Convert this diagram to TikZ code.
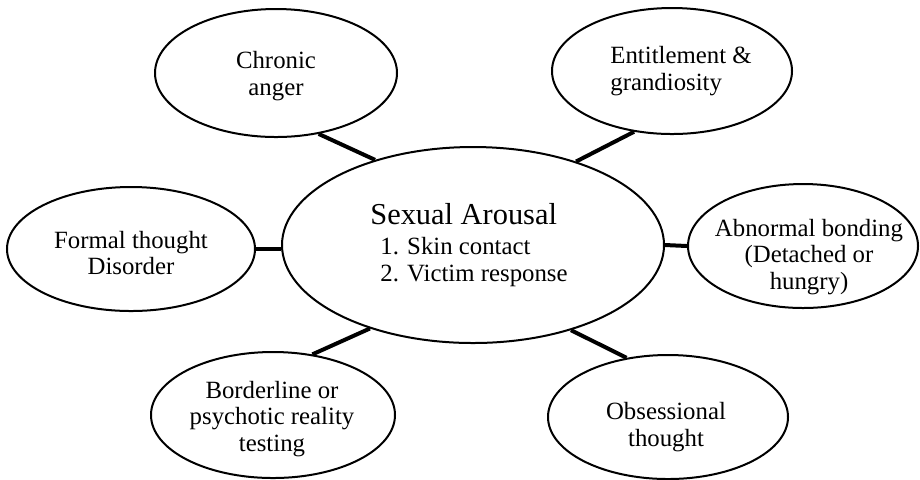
\documentclass[tikz,border=0pt]{standalone}
\usepackage{fontspec}
\setmainfont{Liberation Serif}
\usetikzlibrary{shapes.geometric}
\tikzset{
    my-bubble/.style={
        ellipse, draw, line width=1pt, inner sep=0pt
    },
    my-text/.style={
        align=center, inner sep=0pt, font=\fontsize{12.4}{13.4}\selectfont
    },
    my-link/.style={
        line width=2pt
    },
}

\begin{document}
\begin{tikzpicture}[x=0.5pt, y=-0.5pt]
        \useasboundingbox (0,0) rectangle (920,479);

        % CENTRE
        \node[my-bubble, minimum width=191pt, minimum height=98pt] (SA) at (473,245) {};
        \node[my-text, align=left] (SAT) at (469,245)
            {{\fontsize{15.2}{16}\selectfont Sexual Arousal}\\[1.5pt]
             \hspace*{5pt}1. Skin contact\\
             \hspace*{5pt}2. Victim response};

        % BUBBLES
        \node[my-bubble, minimum width=121pt, minimum height=64pt] (CHR) at (276,73)  {};
        \node[my-bubble, minimum width=120pt, minimum height=63pt] (ENT) at (672,71)  {};
        \node[my-bubble, minimum width=124pt, minimum height=62pt] (FRM) at (131,249) {};
        \node[my-bubble, minimum width=115pt, minimum height=62pt] (ABN) at (803,246) {};
        \node[my-bubble, minimum width=122pt, minimum height=63pt] (BRD) at (273,415) {};
        \node[my-bubble, minimum width=120pt, minimum height=62pt] (OBS) at (668,417) {};

        % BUBBLE TEXTS
        \node[my-text]             (CHRT) at (276,76)  {Chronic\\anger};
        \node[my-text, align=left] (ENTT) at (681,71)  {Entitlement \&\\grandiosity};
        \node[my-text]             (FRMT) at (131,253) {Formal thought\\Disorder};
        \node[my-text]             (ABNT) at (809,257) {Abnormal bonding\\(Detached or\\hungry)};
        \node[my-text]             (BRDT) at (272,419) {Borderline or\\psychotic reality\\testing};
        \node[my-text]             (OBST) at (666,427) {Obsessional\\thought};

        % CONNECTIONS
        \draw[my-link] (CHR.-55)  -- (SA.139);
        \draw[my-link] (ENT.-122) -- (SA.39);
        \draw[my-link] (FRM.east) -- (FRM.east -| SA.west);
        \draw[my-link] (SA.east)  -- (ABN.west);
        \draw[my-link] (BRD.57)   -- (SA.219);
        \draw[my-link] (OBS.125)  -- (SA.-41);

\end{tikzpicture}
\end{document}
